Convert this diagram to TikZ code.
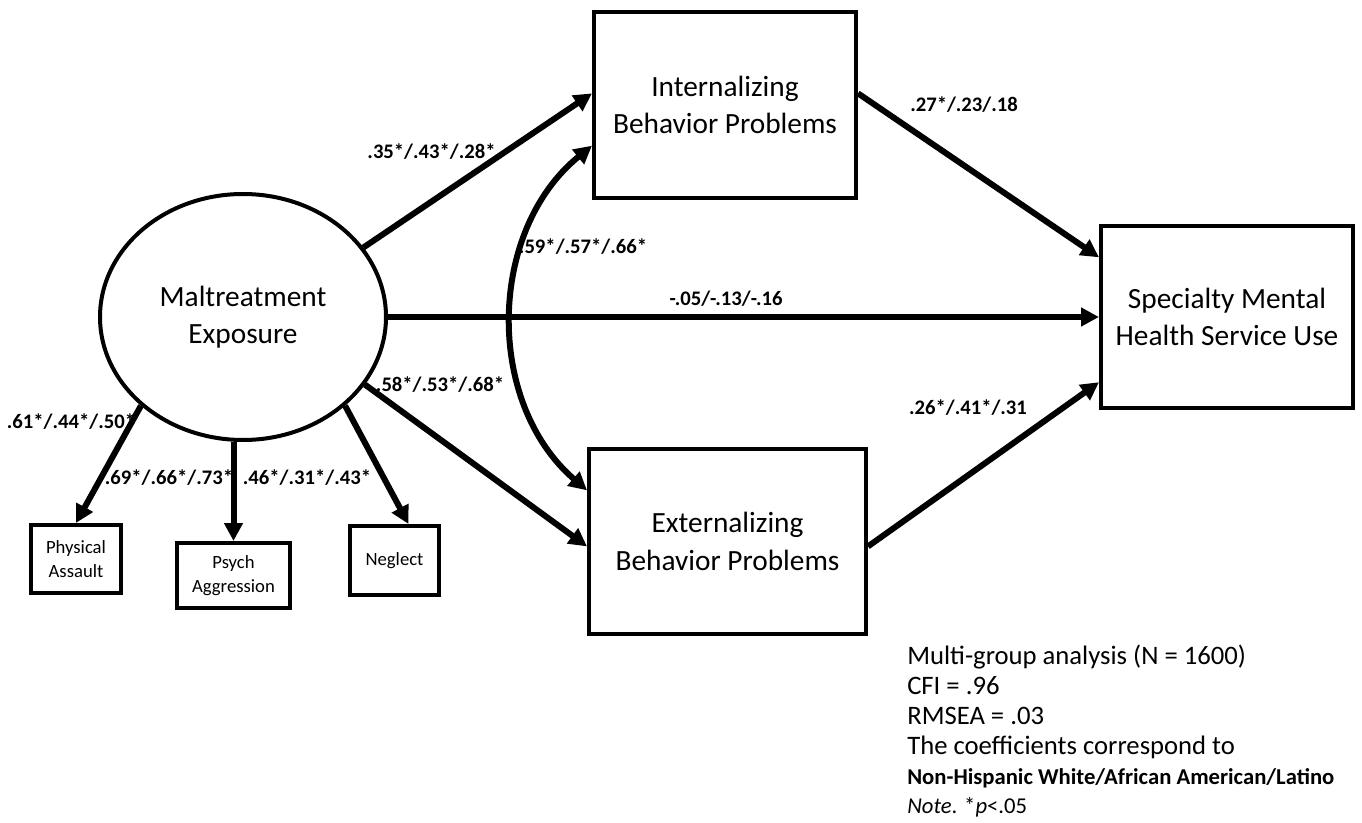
\documentclass[tikz,border=0pt]{standalone}
\usepackage{fontspec}
\setmainfont{Carlito}
\usepackage{tikz}
\usetikzlibrary{arrows.meta, positioning, shapes}

\begin{document}
\begin{tikzpicture}[x=0.75pt, y=-0.75pt,
        every node/.style={inner sep=0pt},
        varbox/.style={draw, line width=3pt, align=center, font=\fontsize{22}{28}\selectfont},
        indbox/.style={draw, line width=3pt, align=center, font=\fontsize{14}{18}\selectfont},
        path/.style={line width=4.5pt, -{Triangle[length=13.5pt,width=13.5pt]}},
        coef/.style={font=\fontsize{15.5}{18}\selectfont\bfseries}]
    \useasboundingbox (0,0) rectangle (1362,823);

    % latent variable and outcomes
    \node[varbox, ellipse, minimum width=214.5pt, minimum height=184.5pt] (mal) at (243,317) {Maltreatment\\Exposure};
    \node[varbox, minimum width=196.5pt, minimum height=139.5pt] (int) at (725,105) {Internalizing\\Behavior Problems};
    \node[varbox, minimum width=207.75pt, minimum height=138.75pt] (ext) at (727.5,541.5) {Externalizing\\Behavior Problems};
    \node[varbox, minimum width=189pt, minimum height=136.5pt] (spec) at (1227,317) {Specialty Mental\\Health Service Use};

    % indicators
    \node[indbox, minimum width=67.5pt, minimum height=51pt] (phys) at (76,559) {Physical\\Assault};
    \node[indbox, minimum width=84.75pt, minimum height=48.75pt] (psych) at (233.5,575.5) {Psych\\Aggression};
    \node[indbox, minimum width=66.75pt, minimum height=51.75pt] (neg) at (394.5,560.5) {Neglect};

    % paths
    \draw[path] (mal.30) -- (int.175);
    \draw[path] (mal.east) -- (spec.west);
    \draw[path] (mal.-29) -- (ext.182);
    \draw[path] (int.5) -- (spec.155);
    \draw[path] (ext.-2) -- (spec.207);
    \draw[line width=4.5pt, {Triangle[length=13.5pt,width=13.5pt]}-{Triangle[length=13.5pt,width=13.5pt]}] (int.197) to[bend right=50] (ext.160);
    \draw[path] (mal.221) -- (phys.north);
    \draw[path] (mal.south -| psych.north) -- (psych.north);
    \draw[path] (mal.-41) -- (neg.69);

    % coefficients
    \node[coef] (cmi) at (431.5,152) {.35*/.43*/.28*};
    \node[coef] (cis) at (964,105) {.27*/.23/.18};
    \node[coef] (cie) at (583,247) {.59*/.57*/.66*};
    \node[coef] (cms) at (726,299) {-.05/-.13/-.16};
    \node[coef] (cme) at (440,385) {.58*/.53*/.68*};
    \node[coef] (ces) at (968,408) {.26*/.41*/.31};
    \node[coef] (cph) at (71,422) {.61*/.44*/.50*};
    \node[coef] (cps) at (169,478) {.69*/.66*/.73*};
    \node[coef] (cne) at (307,478) {.46*/.31*/.43*};

    % fit statistics
    \node[anchor=north west, align=left, font=\fontsize{20}{22.5}\selectfont] (fit) at (907,645) {Multi-group analysis (N = 1600)\\
        CFI = .96\\
        RMSEA = .03\\
        The coefficients correspond to\\
        {\fontsize{17}{21}\selectfont\bfseries Non-Hispanic White/African American/Latino}\\[-1pt]
        {\fontsize{17}{21}\selectfont\textit{Note}. *\textit{p}<.05}};
\end{tikzpicture}
\end{document}
